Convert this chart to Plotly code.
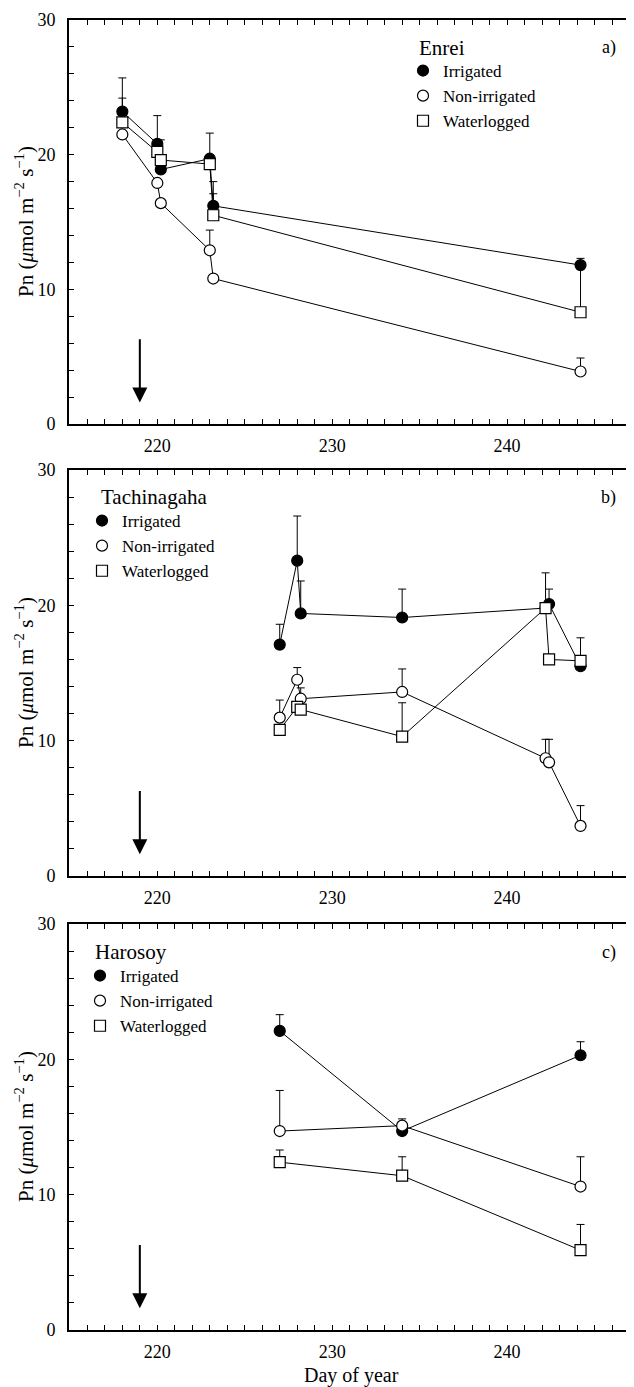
import plotly.graph_objects as go

# ---------------- data ----------------
days_a = [218, 220, 220.2, 223, 223.2, 244.2]
irr_a = [23.2, 20.8, 18.9, 19.7, 16.2, 11.8]
irr_a_err = [2.5, 2.1, 2.2, 1.9, 1.8, 0.5]
non_a = [21.5, 17.9, 16.4, 12.9, 10.8, 3.9]
non_a_err = [0, 0, 0, 1.5, 0, 1.0]
wat_a = [22.4, 20.2, 19.6, 19.3, 15.5, 8.3]
wat_a_err = [1.8, 0.9, 0, 0, 1.6, 3.4]

days_b = [227, 228, 228.2, 234, 242.2, 242.4, 244.2]
irr_b = [17.1, 23.3, 19.4, 19.1, 19.8, 20.1, 15.5]
irr_b_err = [1.5, 3.3, 2.4, 2.1, 2.6, 1.1, 0]
non_b = [11.7, 14.5, 13.1, 13.6, 8.7, 8.4, 3.7]
non_b_err = [1.3, 0.9, 0.8, 1.7, 1.4, 1.7, 1.5]
wat_b = [10.8, 12.5, 12.3, 10.3, 19.8, 16.0, 15.9]
wat_b_err = [0, 0, 0, 2.5, 0, 0, 1.7]

days_c = [227, 234, 244.2]
irr_c = [22.1, 14.7, 20.3]
irr_c_err = [1.2, 0, 1.0]
non_c = [14.7, 15.1, 10.6]
non_c_err = [3.0, 0.5, 2.2]
wat_c = [12.4, 11.4, 5.9]
wat_c_err = [0.9, 1.4, 1.9]

cultivars = ["Enrei", "Tachinagaha", "Harosoy"]
panel_tags = ["a)", "b)", "c)"]
treatments = ["Irrigated", "Non-irrigated", "Waterlogged"]
x_range = [214.95, 247.2]
y_range = [0, 30]
x_label_days = [220, 230, 240]
y_label_vals = [0, 10, 20, 30]
arrow_day = 219
arrow_top, arrow_tip = 6.4, 1.6

# ---------------- layout geometry ----------------
# the page body has an 8px margin, so the figure is laid out in page pixels
# shifted by OFF
OFF = 8
W, H = 634 - OFF, 1387 - OFF
FONT = "Liberation Serif"


def px(x):
    return (x - OFF) / W


def py(y):
    return 1 - (y - OFF) / H


x_dom = [px(69), px(633)]
panels_px = [(20, 424), (470, 876), (924, 1330)]  # top, bottom in page px
y_doms = [[py(b), py(t)] for t, b in panels_px]

panel_data = [
    (days_a, [(irr_a, irr_a_err), (non_a, non_a_err), (wat_a, wat_a_err)]),
    (days_b, [(irr_b, irr_b_err), (non_b, non_b_err), (wat_b, wat_b_err)]),
    (days_c, [(irr_c, irr_c_err), (non_c, non_c_err), (wat_c, wat_c_err)]),
]

styles = [
    dict(symbol="circle", color="black", size=11, line=dict(color="black", width=1.2)),
    dict(symbol="circle", color="white", size=11, line=dict(color="black", width=1.2)),
    dict(symbol="square", color="white", size=11, line=dict(color="black", width=1.2)),
]

fig = go.Figure()

legend_names = ["legend", "legend2", "legend3"]
for p, (days, series) in enumerate(panel_data):
    xa = "x" if p == 0 else f"x{p + 1}"
    ya = "y" if p == 0 else f"y{p + 1}"
    for s, (vals, errs) in enumerate(series):
        fig.add_trace(go.Scatter(
            x=days, y=vals, mode="lines+markers",
            line=dict(color="black", width=1),
            marker=styles[s],
            error_y=dict(type="data", symmetric=False, array=errs,
                         arrayminus=[0] * len(errs), color="black",
                         thickness=1, width=4),
            xaxis=xa, yaxis=ya, showlegend=False, cliponaxis=False,
        ))
    for s in range(3):
        fig.add_trace(go.Scatter(
            x=[None], y=[None], mode="markers", marker=styles[s],
            name=treatments[s], legend=legend_names[p],
            xaxis=xa, yaxis=ya, showlegend=True,
        ))

tick_days = list(range(215, 248))
tick_text = [str(d) if d in x_label_days else "" for d in tick_days]
ylab_vals = list(range(0, 31, 2))
ylab_text = [str(v) if v in y_label_vals else "" for v in ylab_vals]

layout = dict(
    width=W, height=H, margin=dict(l=0, r=0, t=0, b=0, autoexpand=False),
    paper_bgcolor="white", plot_bgcolor="white",
    font=dict(family=FONT, size=18, color="black"),
    annotations=[], shapes=[],
)

leg_pos = [(403, 53), (82, 503), (80, 958)]
for p in range(3):
    sfx = "" if p == 0 else str(p + 1)
    ysfx_right = str(p + 4)
    layout["xaxis" + sfx] = dict(
        domain=x_dom, range=x_range, anchor="y" + sfx,
        tickmode="array", tickvals=tick_days, ticktext=tick_text,
        ticks="inside", ticklen=5, tickwidth=1, tickcolor="black",
        showline=True, linewidth=2, linecolor="black", mirror="ticks",
        showgrid=False, zeroline=False, ticklabelstandoff=4,
        tickfont=dict(family=FONT, size=18), automargin=False,
    )
    layout["yaxis" + sfx] = dict(
        domain=y_doms[p], range=y_range, anchor="x" + sfx,
        tickmode="array", tickvals=ylab_vals, ticktext=ylab_text,
        ticks="inside", ticklen=5, tickwidth=1, tickcolor="black",
        showline=True, linewidth=2, linecolor="black",
        showgrid=False, zeroline=False, ticklabelstandoff=8,
        tickfont=dict(family=FONT, size=18), automargin=False,
    )
    layout["yaxis" + ysfx_right] = dict(
        overlaying="y" + sfx, anchor="x" + sfx, side="right",
        range=y_range, tickmode="array", tickvals=list(range(0, 31)),
        ticks="inside", ticklen=5, tickwidth=1, tickcolor="black",
        showticklabels=False, showline=True, linewidth=2, linecolor="black",
        showgrid=False, zeroline=False, automargin=False,
    )
    lx, ly = leg_pos[p]
    layout[legend_names[p]] = dict(
        x=px(lx), y=py(ly), xanchor="left", yanchor="top",
        bgcolor="rgba(0,0,0,0)", borderwidth=0,
        font=dict(family=FONT, size=17), itemwidth=30,
    )
    top, bot = panels_px[p]
    title_pos = [(417, 48), (99, 497), (93, 952)][p]
    layout["annotations"].append(dict(
        text=cultivars[p], xref="paper", yref="paper",
        x=px(title_pos[0]), y=py(title_pos[1]),
        xanchor="left", yanchor="middle", showarrow=False,
        font=dict(family=FONT, size=21)))
    layout["annotations"].append(dict(
        text=panel_tags[p], xref="paper", yref="paper",
        x=px(618), y=py(top + 28),
        xanchor="right", yanchor="middle", showarrow=False,
        font=dict(family=FONT, size=18)))
    layout["annotations"].append(dict(
        text="Pn (<i>μ</i>mol m<sup>−2</sup> s<sup>−1</sup>)",
        xref="paper", yref="paper", x=px(24), y=py((top + bot) / 2),
        xanchor="center", yanchor="middle", textangle=-90, showarrow=False,
        font=dict(family=FONT, size=21)))
    layout["annotations"].append(dict(
        x=arrow_day, y=arrow_tip, ax=arrow_day, ay=arrow_top,
        xref="x" + sfx, yref="y" + sfx, axref="x" + sfx, ayref="y" + sfx,
        text="", showarrow=True, arrowhead=2, arrowsize=1.5,
        arrowwidth=2, arrowcolor="black"))

layout["annotations"].append(dict(
    text="Day of year", xref="paper", yref="paper",
    x=px(351), y=py(1375), xanchor="center", yanchor="middle",
    showarrow=False, font=dict(family=FONT, size=20)))

fig.update_layout(**layout)
fig.write_html("out.html")
